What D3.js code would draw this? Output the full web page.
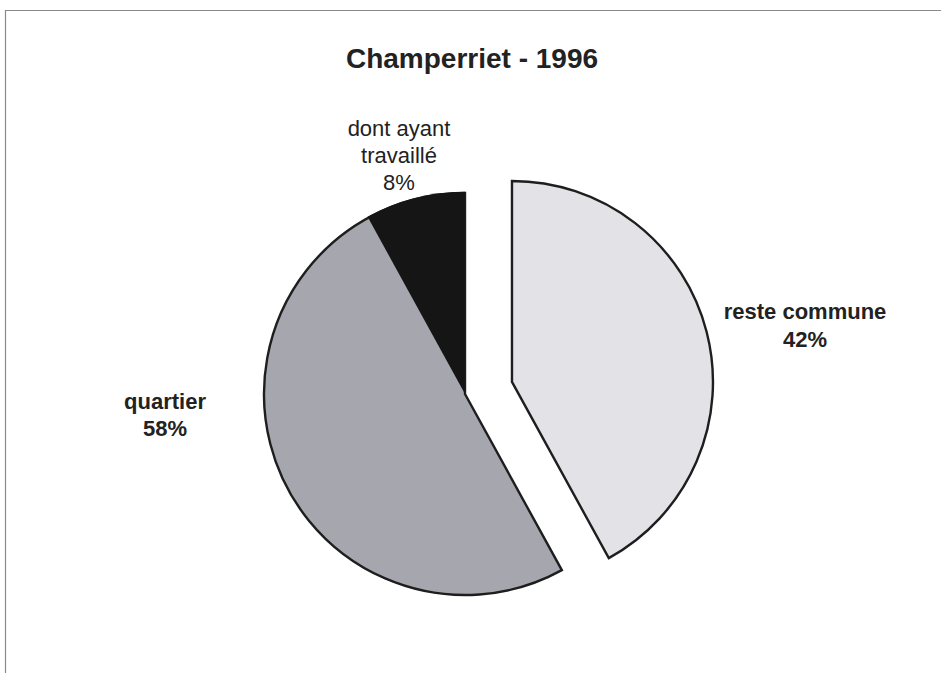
<!DOCTYPE html>
<html>
<head>
<meta charset="utf-8">
<script src="https://cdn.jsdelivr.net/npm/d3@7"></script>
<style>
  html, body { margin: 0; padding: 0; background: #fff; }
  svg { display: block; }
</style>
</head>
<body>
<svg id="chart" width="941" height="673"></svg>
<script>
// ---- data ----
const title = "Champerriet - 1996";
const categories = ["reste commune", "quartier"];
const values = [42, 58];
const subValue = 8; // part of "quartier"
const labelLines = [["reste commune", "42%"], ["quartier", "58%"]];
const subLabel = ["dont ayant", "travaillé", "8%"];
const colors = ["#e2e2e7", "#a6a6af"];
const subColor = "#151515";

const svg = d3.select("#chart");
const W = 941, H = 673;

// frame
svg.append("path")
  .attr("d", `M5.5,${H} L5.5,10.5 L${W},10.5`)
  .attr("fill", "none").attr("stroke", "#8a8a8a").attr("stroke-width", 1.2);

// title
svg.append("text")
  .attr("x", 472).attr("y", 68)
  .attr("text-anchor", "middle")
  .attr("font-family", "Liberation Sans, Arial, sans-serif")
  .attr("font-weight", "bold").attr("font-size", 28)
  .attr("fill", "#222")
  .text(title);

const cx = 465, cy = 394, r = 201, explode = 48.5;

const pie = d3.pie().sort(null).value(d => d)(values);
const arc = d3.arc().innerRadius(0).outerRadius(r);

const g = svg.append("g").attr("transform", `translate(${cx},${cy})`);

pie.forEach((p, i) => {
  const mid = (p.startAngle + p.endAngle) / 2;
  const off = i === 0 ? explode : 0;
  const dx = off * Math.sin(mid), dy = -off * Math.cos(mid);
  g.append("path")
    .attr("d", arc(p))
    .attr("transform", `translate(${dx},${dy})`)
    .attr("fill", colors[i])
    .attr("stroke", "#1e1e1e")
    .attr("stroke-width", 2.4)
    .attr("stroke-linejoin", "miter");
});

// sub-slice inside "quartier": last 8% before 12 o'clock
const angle = d3.scaleLinear().domain([0, d3.sum(values)]).range([0, 2 * Math.PI]);
const q = pie[1];
const subArc = { startAngle: q.endAngle - angle(subValue), endAngle: q.endAngle };
g.append("path")
  .attr("d", d3.arc().innerRadius(0).outerRadius(r + 1.2)(subArc))
  .attr("fill", subColor);

// labels
function addLabel(lines, x, y, size, weight, lh) {
  const t = svg.append("text")
    .attr("text-anchor", "middle")
    .attr("font-family", "Liberation Sans, Arial, sans-serif")
    .attr("font-weight", weight).attr("font-size", size)
    .attr("fill", "#222");
  lines.forEach((l, k) => {
    t.append("tspan").attr("x", x).attr("y", y + k * lh).text(l);
  });
}
addLabel(labelLines[0], 805, 319, 22, "bold", 28);
addLabel(labelLines[1], 165, 409, 22, "bold", 27);
addLabel(subLabel, 399, 136, 22, "normal", 27);
</script>
</body>
</html>
